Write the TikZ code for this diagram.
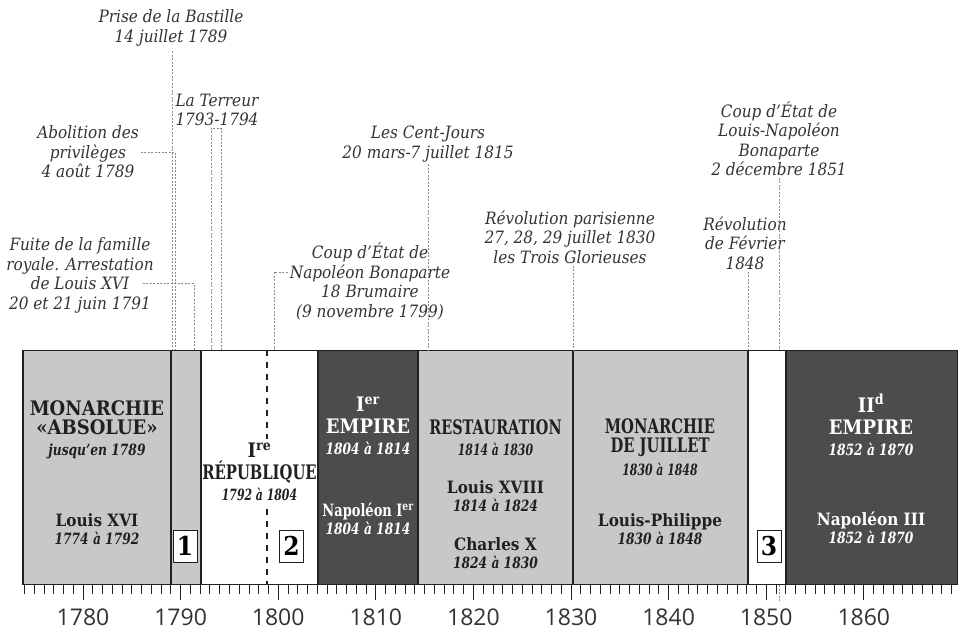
\documentclass[tikz,border=0pt]{standalone}
\usepackage{fontspec}
\usepackage{graphicx}
\setmainfont{DejaVu Serif Condensed}
\newfontfamily\axisfont{Open Sans}
\usetikzlibrary{positioning}

\definecolor{pale}{HTML}{C7C8CA}
\definecolor{deep}{HTML}{4B4C4E}
\definecolor{ink}{HTML}{231F20}
\definecolor{note}{HTML}{333333}
\definecolor{leadc}{HTML}{8A8A8A}

\newcommand\datef{\fontsize{15.5}{19}\selectfont\bfseries\itshape}
\newcommand\dt[2][0.88]{{\datef\scalebox{#1}[1]{#2}}}

\begin{document}
\begin{tikzpicture}[
        x=1pt, y=-1pt,
        evt/.style={font=\fontsize{17}{19.5}\selectfont\itshape, text=note, align=center, inner sep=2pt},
        lead/.style={draw=leadc, line width=0.7pt, dash pattern=on 2pt off 1.5pt},
        brum/.style={draw=ink, line width=1.1pt, dash pattern=on 6pt off 6pt},
        era/.style={draw=ink, line width=1pt, minimum height=234pt, inner sep=0pt, anchor=north west},
        title/.style={font=\fontsize{20}{19}\selectfont\bfseries, text=ink, align=center, inner sep=0pt},
        ruler/.style={font=\fontsize{17}{18}\selectfont\bfseries, text=ink, align=center, inner sep=0pt},
        numbox/.style={draw=ink, line width=0.6pt, fill=white, font=\fontsize{26}{26}\selectfont\bfseries, minimum width=24pt, minimum height=32pt, inner sep=0pt},
        yr/.style={font=\axisfont\fontsize{23}{23}\selectfont, text=note, anchor=base, inner sep=0pt}
    ]
    \useasboundingbox (0,0) rectangle (959,633);

    % Periods
    \node[era, fill=pale, minimum width=148pt] (absolu) at (23,350) {};
    \node[era, fill=pale, minimum width=30pt] (rev1) at (171,350) {};
    \node[era, fill=white, minimum width=117pt] (rep1) at (201,350) {};
    \node[era, fill=deep, minimum width=100pt] (emp1) at (318,350) {};
    \node[era, fill=pale, minimum width=155pt] (resto) at (418,350) {};
    \node[era, fill=pale, minimum width=175pt] (juillet) at (573,350) {};
    \node[era, fill=white, minimum width=38pt] (rev3) at (748,350) {};
    \node[era, fill=deep, minimum width=171pt] (emp2) at (786,350) {};
    \foreach \n in {absolu,rev1,rep1,emp1,resto,juillet,rev3,emp2}
        \draw[ink, line width=1.6pt] (\n.north west) -- (\n.south west);

    % Axis
    \foreach \i in {-6,...,89}{
        \pgfmathsetmacro\tl{ifthenelse(mod(\i,10)==0,16,10)}
        \draw[ink, line width=0.8pt] ({83+\i*9.76},584) -- ++(0,\tl);
    }
    \foreach \d in {0,...,8}{
        \pgfmathtruncatemacro\lab{1780+\d*10}
        \node[yr] (yr\d) at ({83+\d*97.6},625) {\lab};
    }

    % Inside the periods
    \node[title] (absolu-t) at (97,430) {MONARCHIE\\«ABSOLUE»\\[2pt]\dt{jusqu’en 1789}};
    \node[ruler] (absolu-r) at (97,529) {Louis XVI\\\dt{1774 à 1792}};
    \node[title] (rep1-t) at (259.5,472) {I\textsuperscript{re}\\[3pt]\scalebox{0.82}[1]{RÉPUBLIQUE}\\[2pt]\dt[0.78]{1792 à 1804}};
    \node[title, text=white] (emp1-t) at (368,426) {I\textsuperscript{er}\\[3pt]EMPIRE\\[2pt]\dt{1804 à 1814}};
    \node[ruler, text=white] (emp1-r) at (368,519) {\scalebox{0.85}[1]{Napoléon I\textsuperscript{er}}\\\dt{1804 à 1814}};
    \node[title] (resto-t) at (495.5,438) {\scalebox{0.8}[1]{RESTAURATION}\\[2pt]\dt[0.78]{1814 à 1830}};
    \node[ruler] (resto-r1) at (495.5,496) {Louis XVIII\\\dt{1814 à 1824}};
    \node[ruler] (resto-r2) at (495.5,553) {Charles X\\\dt{1824 à 1830}};
    \node[title] (juillet-t) at (660,447) {\scalebox{0.82}[1]{MONARCHIE}\\\scalebox{0.82}[1]{DE JUILLET}\\[4pt]\dt[0.78]{1830 à 1848}};
    \node[ruler] (juillet-r) at (660,529) {Louis-Philippe\\\dt{1830 à 1848}};
    \node[title, text=white] (emp2-t) at (871,425) {II\textsuperscript{d}\\[3pt]EMPIRE\\[2pt]\dt{1852 à 1870}};
    \node[ruler, text=white] (emp2-r) at (871,528) {Napoléon III\\\dt{1852 à 1870}};

    % Brumaire line, broken by the title
    \draw[brum] ([xshift=66pt]rep1.north west) -- ([xshift=66pt, yshift=4pt]rep1.north west |- rep1-t.north);
    \draw[brum] ([xshift=66pt, yshift=-8pt]rep1.north west |- rep1-t.south) -- ([xshift=66pt]rep1.south west);

    \node[numbox] (n1) at (185,546) {1};
    \node[numbox] (n2) at (291.5,546) {2};
    \node[numbox] (n3) at (769,546) {3};

    % Events
    \node[evt] (bastille) at (171,28) {Prise de la Bastille\\14 juillet 1789};
    \node[evt] (terreur) at (217,110) {La Terreur\\1793-1794};
    \node[evt] (abolition) at (88,152) {Abolition des\\privilèges\\4 août 1789};
    \node[evt] (fuite) at (80,275.5) {Fuite de la famille\\royale. Arrestation\\de Louis XVI\\20 et 21 juin 1791};
    \node[evt] (brumaire) at (370,281.5) {Coup d’État de\\Napoléon Bonaparte\\18 Brumaire\\(9 novembre 1799)};
    \node[evt] (centjours) at (428,144) {Les Cent-Jours\\20 mars-7 juillet 1815};
    \node[evt] (glorieuses) at (570,237) {Révolution parisienne\\27, 28, 29 juillet 1830\\les Trois Glorieuses};
    \node[evt] (fevrier) at (745,243) {Révolution\\de Février\\1848};
    \node[evt] (decembre) at (779,138.5) {Coup d’État de\\Louis-Napoléon\\Bonaparte\\2 décembre 1851};

    % Leaders
    \draw[lead] ([yshift=-3pt]bastille.south -| absolu.north east) -- (absolu.north east);
    \draw[lead] (abolition.east) -| ([xshift=3pt]absolu.north east);
    \draw[lead] ([shift={(-13,8)}]fuite.east) -| ([xshift=22pt]absolu.north east);
    \draw[lead] ([xshift=10pt]rep1.north west) |- (terreur.south) -| ([xshift=20pt]rep1.north west);
    \draw[lead] ([shift={(0,-9.5)}]brumaire.west) -| ([xshift=73pt]rep1.north west);
    \draw[lead] (centjours.south) -- (centjours.south |- resto.north);
    \draw[lead] (glorieuses.south -| juillet.north west) -- (juillet.north west);
    \draw[lead] (fevrier.south -| rev3.north west) -- (rev3.north west);
    \draw[lead] (decembre.south) -- (decembre.south |- rev3.north);
    \draw[lead] (decembre.south |- rev3.south) -- +(0,17);

\end{tikzpicture}
\end{document}
